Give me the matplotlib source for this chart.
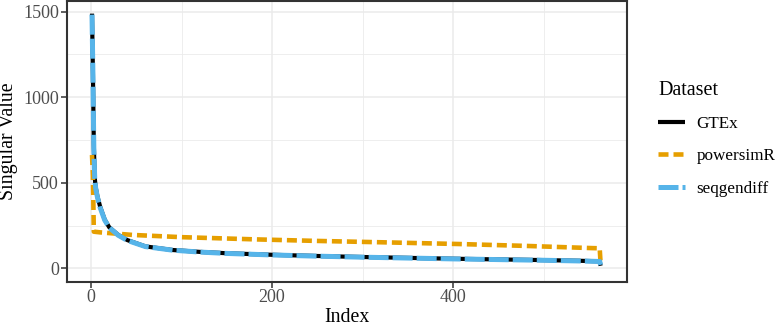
import matplotlib.pyplot as plt

plt.rcParams['font.family'] = ['Liberation Serif', 'DejaVu Serif']
plt.rcParams['lines.scale_dashes'] = False

# singular values (index, value)
gtex_idx = [1, 2, 3, 4, 5, 7, 10, 15, 20, 30, 40, 60, 90, 120, 150, 200,
            250, 300, 350, 400, 450, 500, 540, 562, 563]
gtex_val = [1488, 1150, 720, 530, 475, 420, 360, 285, 240, 195, 165, 128,
            107, 96, 88, 79, 72, 66, 61, 56, 52, 48, 44, 41, 15]

psr_idx = [1, 2, 3, 10, 46, 100, 182, 250, 322, 406, 480, 554, 562, 563]
psr_val = [662, 540, 214, 210, 195, 182, 169, 160, 152, 142, 131, 118, 117, 30]

sgd_idx = [1, 2, 3, 4, 5, 7, 10, 15, 20, 30, 40, 60, 90, 120, 150, 200,
           250, 300, 350, 400, 450, 500, 540, 562, 563]
sgd_val = [1482, 1130, 700, 525, 470, 415, 355, 282, 238, 193, 163, 127,
           106, 95, 87, 78, 71, 65, 60, 55, 51, 47, 43, 40, 20]

datasets = ['GTEx', 'powersimR', 'seqgendiff']
colors = ['#000000', '#E69F00', '#56B4E9']

fig = plt.figure(figsize=(7.78, 3.26), dpi=100)
ax = fig.add_axes([0.0857, 0.136, 0.72, 0.861])

ax.plot(gtex_idx, gtex_val, color=colors[0], lw=3.0, label=datasets[0],
        solid_capstyle='butt', zorder=3)
ax.plot(psr_idx, psr_val, color=colors[1], lw=3.3, label=datasets[1],
        dashes=(7.2, 3.6), dash_capstyle='butt', zorder=4)
ax.plot(sgd_idx, sgd_val, color=colors[2], lw=3.6, label=datasets[2],
        dashes=(14.4, 2.9), dash_capstyle='butt', zorder=5)

ax.set_xlim(-27, 592)
ax.set_ylim(-78, 1562)
ax.set_xticks([0, 200, 400])
ax.set_yticks([0, 500, 1000, 1500])
ax.set_xticks([100, 300, 500], minor=True)
ax.set_yticks([250, 750, 1250], minor=True)
ax.grid(True, which='major', color='#EBEBEB', lw=1.1, zorder=0)
ax.grid(True, which='minor', color='#EBEBEB', lw=0.6, zorder=0)
ax.set_axisbelow(True)
ax.tick_params(which='minor', length=0)
ax.tick_params(which='major', length=4, width=1.1, color='#333333',
               labelcolor='#4D4D4D', labelsize=13, pad=1.5)
for s in ax.spines.values():
    s.set_color('#333333')
    s.set_linewidth(1.5)

# axis titles
fig.text(0.4459, 4 / 326, 'Index', fontsize=14.3, ha='center', va='baseline')
fig.text(9 / 778, 0.567, 'Singular Value', fontsize=14.3, rotation=90,
         ha='center', va='center')

leg = ax.legend(loc='upper left', bbox_to_anchor=(0.846, 0.752),
                bbox_transform=fig.transFigure, frameon=False,
                title='Dataset', title_fontsize=14.5, fontsize=12.3,
                handlelength=1.56, handletextpad=0.68, labelspacing=0.95,
                alignment='left', borderaxespad=0, borderpad=0)

fig.savefig('out.png', dpi=100)
